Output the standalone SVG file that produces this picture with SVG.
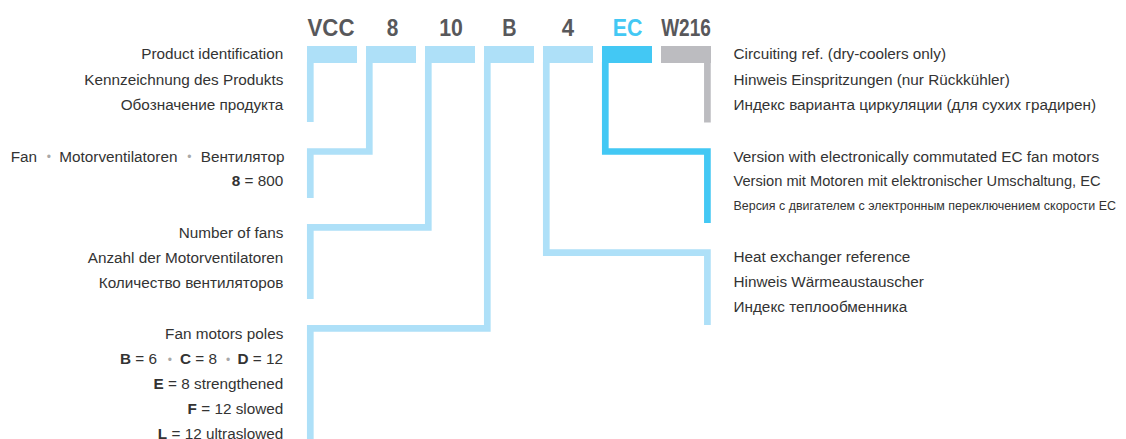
<svg xmlns="http://www.w3.org/2000/svg" width="1126" height="439" viewBox="0 0 1126 439">
<style>
.code{font-family:"Liberation Sans",Arial,sans-serif;font-weight:bold;font-size:23px;fill:#58585b;text-anchor:middle}
.t{font-family:"Liberation Sans",Arial,sans-serif;font-size:15.3px;fill:#333333}
.r{text-anchor:end}
.b{font-weight:bold}
.dot{fill:#a8a8a8;font-size:12px}
.sm{font-size:13.5px}
.ln{fill:none;stroke-width:6.7;stroke-linejoin:miter;stroke-linecap:butt}
.lb{stroke:#aee0f8}
.ec{stroke:#43c8f4}
.gr{stroke:#bcbcc0}
</style>
<rect width="1126" height="439" fill="#ffffff"/>
<g id="code-vcc"><text class="code" x="331" y="36" textLength="47" lengthAdjust="spacingAndGlyphs">VCC</text><rect x="307" y="46" width="50" height="17" fill="#aee0f8"/></g>
<g id="code-8"><text class="code" x="392.5" y="36" textLength="11.6" lengthAdjust="spacingAndGlyphs">8</text><rect x="366" y="46" width="50" height="17" fill="#aee0f8"/></g>
<g id="code-10"><text class="code" x="451" y="36" textLength="23.7" lengthAdjust="spacingAndGlyphs">10</text><rect x="425" y="46" width="50" height="17" fill="#aee0f8"/></g>
<g id="code-b"><text class="code" x="509.5" y="36" textLength="14.3" lengthAdjust="spacingAndGlyphs">B</text><rect x="484" y="46" width="50" height="17" fill="#aee0f8"/></g>
<g id="code-4"><text class="code" x="568" y="36" textLength="12.3" lengthAdjust="spacingAndGlyphs">4</text><rect x="543" y="46" width="50" height="17" fill="#aee0f8"/></g>
<g id="code-ec"><text class="code" x="627.5" y="36" textLength="29.6" lengthAdjust="spacingAndGlyphs" style="fill:#43c8f4">EC</text><rect x="602" y="46" width="50" height="17" fill="#43c8f4"/></g>
<g id="code-w216"><text class="code" x="686" y="36" textLength="49.7" lengthAdjust="spacingAndGlyphs">W216</text><rect x="661" y="46" width="50" height="17" fill="#bcbcc0"/></g>

<g id="connectors">
<path class="ln lb" d="M310.3,62 V122"/>
<path class="ln lb" d="M369.3,62 V151.5 H310.3 V198"/>
<path class="ln lb" d="M428.3,62 V227.3 H310.3 V299"/>
<path class="ln lb" d="M487.3,62 V328.3 H310.3 V440"/>
<path class="ln lb" d="M546.3,62 V252.6 H707.4 V325"/>
<path class="ln ec" d="M605.3,62 V151.5 H707.4 V223"/>
<path class="ln gr" d="M707.4,62 V122.5"/>
</g>

<g id="label-product">
<text class="t r" x="283.3" y="59">Product identification</text>
<text class="t r" x="283.3" y="84.5">Kennzeichnung des Produkts</text>
<text class="t r" x="283.3" y="110">Обозначение продукта</text>
</g>
<g id="label-fan">
<text class="t" y="161.7"><tspan x="10.7">Fan</tspan><tspan class="dot" x="46.8" dy="-0.5">•</tspan><tspan x="59.3" dy="0.5">Motorventilatoren</tspan><tspan class="dot" x="187.2" dy="-0.5">•</tspan><tspan x="200.7" dy="0.5">Вентилятор</tspan></text>
<text class="t r" x="283.3" y="185.5"><tspan class="b">8</tspan> = 800</text>
</g>
<g id="label-number">
<text class="t r" x="283.3" y="237.5">Number of fans</text>
<text class="t r" x="283.3" y="262.5">Anzahl der Motorventilatoren</text>
<text class="t r" x="283.3" y="287.5">Количество вентиляторов</text>
</g>
<g id="label-poles">
<text class="t r" x="283.3" y="338.5">Fan motors poles</text>
<text class="t" y="364"><tspan class="b" x="120">B</tspan><tspan> = 6</tspan><tspan class="dot" x="167.8" dy="-0.5">•</tspan><tspan class="b" x="180" dy="0.5">C</tspan><tspan> = 8</tspan><tspan class="dot" x="226" dy="-0.5">•</tspan><tspan class="b" x="237.5" dy="0.5">D</tspan><tspan> = 12</tspan></text>
<text class="t r" x="283.3" y="388.5"><tspan class="b">E</tspan> = 8 strengthened</text>
<text class="t r" x="283.3" y="413.5"><tspan class="b">F</tspan> = 12 slowed</text>
<text class="t r" x="283.3" y="438.5"><tspan class="b">L</tspan> = 12 ultraslowed</text>
</g>
<g id="label-circuiting">
<text class="t" x="733.5" y="59">Circuiting ref. (dry-coolers only)</text>
<text class="t" x="733.5" y="84.5">Hinweis Einspritzungen (nur Rückkühler)</text>
<text class="t" x="733.5" y="110">Индекс варианта циркуляции (для сухих градирен)</text>
</g>
<g id="label-ec">
<text class="t" x="733.5" y="161.7">Version with electronically commutated EC fan motors</text>
<text class="t" x="733.5" y="186" textLength="367" lengthAdjust="spacingAndGlyphs">Version mit Motoren mit elektronischer Umschaltung, EC</text>
<text class="t sm" x="733.5" y="210" textLength="382.5" lengthAdjust="spacingAndGlyphs">Версия с двигателем с электронным переключением скорости EC</text>
</g>
<g id="label-heat">
<text class="t" x="733.5" y="262">Heat exchanger reference</text>
<text class="t" x="733.5" y="287">Hinweis Wärmeaustauscher</text>
<text class="t" x="733.5" y="312">Индекс теплообменника</text>
</g>
</svg>
